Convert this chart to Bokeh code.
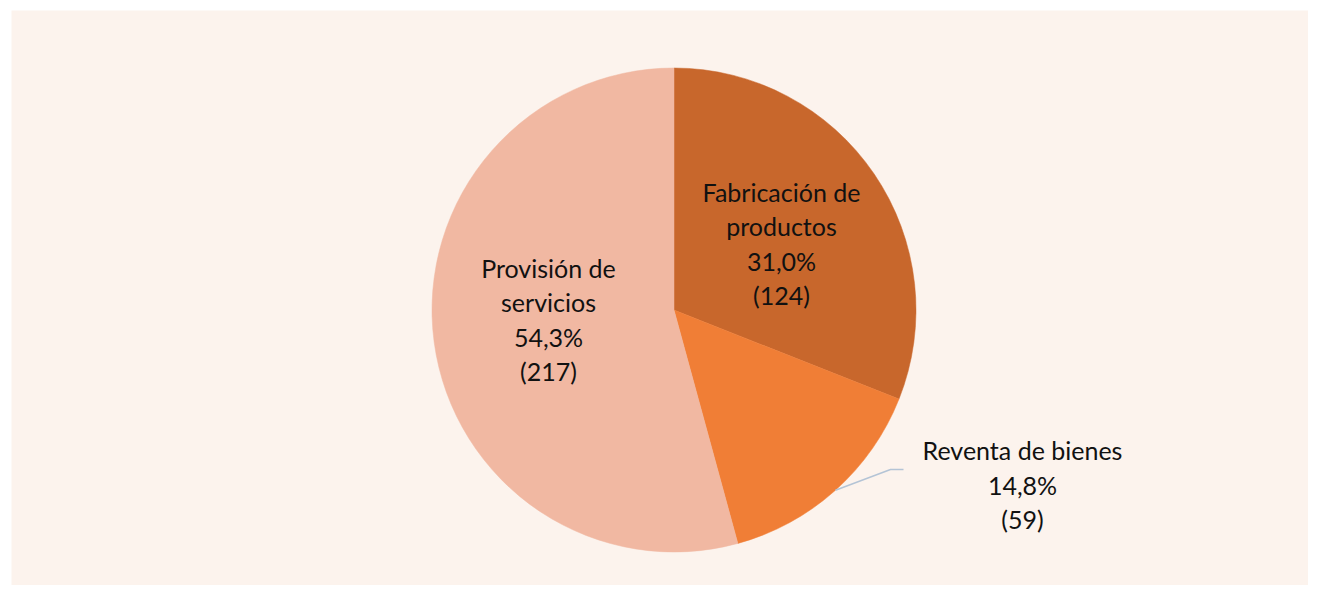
import numpy as np
from bokeh.plotting import figure
from bokeh.models import Range1d, ColumnDataSource
from bokeh.core.properties import value
from bokeh.embed import file_html
from bokeh.resources import INLINE

# ---- data ----
categories = ["Fabricación de\nproductos", "Reventa de bienes", "Provisión de\nservicios"]
counts = [124, 59, 217]
pct_labels = ["31,0%", "14,8%", "54,3%"]

# ---- styles / layout ----
colors = ["#C8672C", "#F07E36", "#F1B8A2"]
bg = "#FCF3ED"
W, H = 1308, 585
ML, MT = 11, 10                     # white border left/top
cx_page, cy_page = 673.5, 309.5     # pie centre in figure pixels (from top-left)
R = 242.0
label_xy = [(107.5, 66.5), (348.5, -174.5), (-125.5, -9.5)]
font = value("Lato")
fsize = "25px"

total = float(sum(counts))
fr = np.array(counts) / total
ends = np.pi / 2 - 2 * np.pi * np.cumsum(fr)
starts = np.concatenate([[np.pi / 2], ends[:-1]])
mids = (starts + ends) / 2

p = figure(width=W, height=H, output_backend="svg", toolbar_location=None,
           x_range=Range1d(-(cx_page - ML), W - cx_page), y_range=Range1d(-(H - cy_page), cy_page - MT),
           min_border_left=ML, min_border_top=MT, min_border_right=0, min_border_bottom=0,
           background_fill_color=bg, border_fill_color="white", outline_line_color=None)
p.axis.visible = False
p.grid.visible = False

src = ColumnDataSource(dict(start=ends, end=starts, color=colors))
p.wedge(x=0, y=0, radius=R, start_angle="start", end_angle="end", fill_color="color",
        line_color="color", line_width=0.5, source=src)

# leader line for Reventa
i = 1
x0, y0 = R * np.cos(mids[i]), R * np.sin(mids[i])
p.line(x=[x0, 216.5, 229.5], y=[y0, -159.5, -159.5], line_color="#B4C4D6", line_width=1.5)

texts = [f"{c}\n{pc}\n({n})" for c, pc, n in zip(categories, pct_labels, counts)]
lsrc = ColumnDataSource(dict(x=[a for a, b in label_xy], y=[b for a, b in label_xy], t=texts))
p.text(x="x", y="y", text="t", source=lsrc, text_align="center", text_baseline="middle",
       text_font=font, text_font_size=fsize, text_color="#111111", text_line_height=1.15)

open("out.html", "w").write(file_html(p, INLINE))
